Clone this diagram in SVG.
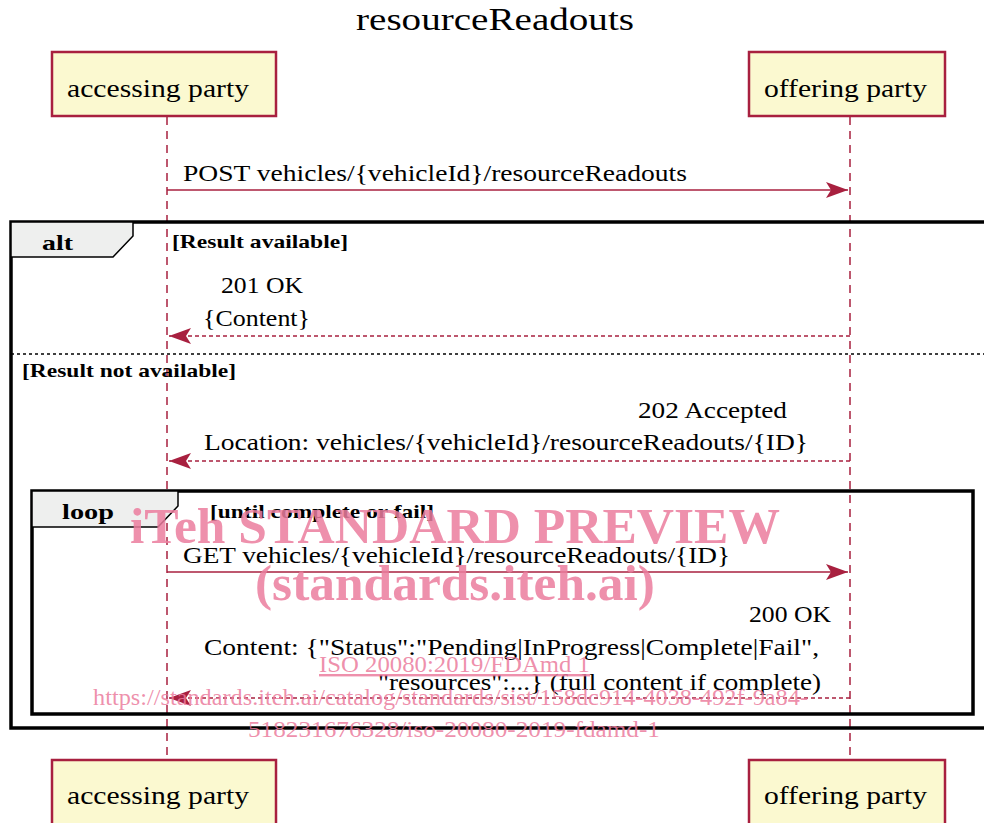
<svg xmlns="http://www.w3.org/2000/svg" width="984" height="823" viewBox="0 0 984 823">
  <style>
    .t { font-family: "Liberation Serif", "DejaVu Serif", serif; fill: #000; }
    .msg { font-size: 24px; }
    .part { font-size: 26px; }
    .guard { font-size: 19px; font-weight: bold; }
    .kw { font-size: 22px; font-weight: bold; }
    .box { fill: #FBF9D0; stroke: #A8203F; stroke-width: 2.5; }
    .life { stroke: #A8203F; stroke-width: 1.5; stroke-dasharray: 8 6; fill: none; }
    .sync { stroke: #A8203F; stroke-width: 1.5; fill: none; }
    .ret { stroke: #A8203F; stroke-width: 1.5; stroke-dasharray: 4 3; fill: none; }
    .frame { fill: none; stroke: #000; stroke-width: 3.5; }
    .tab { fill: #EEEFEE; stroke: #000; stroke-width: 1.5; }
    .wm { font-family: "Liberation Serif", "DejaVu Serif", serif; fill: #EB7C9D; fill-opacity: 0.85; }
  </style>
  <defs>
    <marker id="ah" markerWidth="24" markerHeight="16" viewBox="0 0 24 16" refX="22" refY="8" orient="auto" markerUnits="userSpaceOnUse">
      <path d="M0,0 L22,8 L0,16 L5,8 Z" fill="#A8203F"/>
    </marker>
  </defs>

  <rect width="984" height="823" fill="#fff"/>

  <text class="t" x="495" y="30" font-size="32" text-anchor="middle" textLength="278" lengthAdjust="spacingAndGlyphs">resourceReadouts</text>

  <!-- lifelines -->
  <g id="lifelines">
    <line class="life" x1="167" y1="117" x2="167" y2="760"/>
    <line class="life" x1="850" y1="117" x2="850" y2="760"/>
  </g>

  <!-- participants -->
  <g id="accessing-top">
    <rect class="box" x="52" y="52" width="224" height="64"/>
    <text class="t part" x="67" y="97" textLength="182" lengthAdjust="spacingAndGlyphs">accessing party</text>
  </g>
  <g id="offering-top">
    <rect class="box" x="749" y="52" width="196" height="64"/>
    <text class="t part" x="764" y="97" textLength="163" lengthAdjust="spacingAndGlyphs">offering party</text>
  </g>
  <g id="accessing-bottom">
    <rect class="box" x="52" y="760" width="224" height="70"/>
    <text class="t part" x="67" y="804" textLength="182" lengthAdjust="spacingAndGlyphs">accessing party</text>
  </g>
  <g id="offering-bottom">
    <rect class="box" x="749" y="760" width="196" height="70"/>
    <text class="t part" x="764" y="804" textLength="163" lengthAdjust="spacingAndGlyphs">offering party</text>
  </g>

  <!-- combined fragments -->
  <g id="alt-fragment">
    <rect class="frame" x="11" y="222" width="990" height="506"/>
    <polygon class="tab" points="11,222 133,222 133,236 113,257 11,257"/>
    <text class="t kw" x="42" y="250" textLength="31" lengthAdjust="spacingAndGlyphs">alt</text>
    <text class="t guard" x="172" y="248" textLength="176" lengthAdjust="spacingAndGlyphs">[Result available]</text>
    <line x1="11" y1="354" x2="984" y2="354" stroke="#000" stroke-width="1.5" stroke-dasharray="3 3"/>
    <text class="t guard" x="22" y="377" textLength="214" lengthAdjust="spacingAndGlyphs">[Result not available]</text>
  </g>
  <g id="loop-fragment">
    <rect class="frame" x="32" y="491" width="941" height="223"/>
    <polygon class="tab" points="32,491 178,491 178,506 158,527 32,527"/>
    <text class="t kw" x="62" y="519" textLength="52" lengthAdjust="spacingAndGlyphs">loop</text>
    <text class="t guard" x="210" y="518" textLength="224" lengthAdjust="spacingAndGlyphs">[until complete or fail]</text>
  </g>

  <!-- messages -->
  <g id="connectors">
    <line class="sync" x1="167" y1="190" x2="848" y2="190" marker-end="url(#ah)"/>
    <text class="t msg" x="183" y="181" textLength="504" lengthAdjust="spacingAndGlyphs">POST vehicles/{vehicleId}/resourceReadouts</text>

    <line class="ret" x1="850" y1="336" x2="169" y2="336" marker-end="url(#ah)"/>
    <text class="t msg" x="221" y="293" textLength="82" lengthAdjust="spacingAndGlyphs">201 OK</text>
    <text class="t msg" x="203" y="326" textLength="107" lengthAdjust="spacingAndGlyphs">{Content}</text>

    <line class="ret" x1="850" y1="461" x2="169" y2="461" marker-end="url(#ah)"/>
    <text class="t msg" x="638" y="418" textLength="149" lengthAdjust="spacingAndGlyphs">202 Accepted</text>
    <text class="t msg" x="204" y="450" textLength="604" lengthAdjust="spacingAndGlyphs">Location: vehicles/{vehicleId}/resourceReadouts/{ID}</text>

    <line class="sync" x1="167" y1="572" x2="848" y2="572" marker-end="url(#ah)"/>
    <text class="t msg" x="183" y="563" textLength="547" lengthAdjust="spacingAndGlyphs">GET vehicles/{vehicleId}/resourceReadouts/{ID}</text>

    <line class="ret" x1="850" y1="698" x2="169" y2="698" marker-end="url(#ah)"/>
    <text class="t msg" x="749" y="622" textLength="82" lengthAdjust="spacingAndGlyphs">200 OK</text>
    <text class="t msg" x="204" y="655" textLength="615" lengthAdjust="spacingAndGlyphs">Content: {"Status":"Pending|InProgress|Complete|Fail",</text>
    <text class="t msg" x="378" y="690" textLength="443" lengthAdjust="spacingAndGlyphs">"resources":...} (full content if complete)</text>
  </g>

  <!-- overlay stamp -->
  <g id="stamp">
    <text class="wm" x="130" y="543" font-size="50" font-weight="bold" textLength="650" lengthAdjust="spacingAndGlyphs">iTeh STANDARD PREVIEW</text>
    <text class="wm" x="255" y="600" font-size="50" font-weight="bold" textLength="400" lengthAdjust="spacingAndGlyphs">(standards.iteh.ai)</text>
    <text class="wm" x="319" y="672" font-size="24" text-decoration="underline" textLength="271" lengthAdjust="spacingAndGlyphs">ISO 20080:2019/FDAmd 1</text>
    <text class="wm" x="93" y="705" font-size="24" textLength="715" lengthAdjust="spacingAndGlyphs">https://standards.iteh.ai/catalog/standards/sist/158dc914-4038-492f-9a84-</text>
    <text class="wm" x="248" y="737" font-size="24" textLength="412" lengthAdjust="spacingAndGlyphs">518231676328/iso-20080-2019-fdamd-1</text>
  </g>
</svg>
